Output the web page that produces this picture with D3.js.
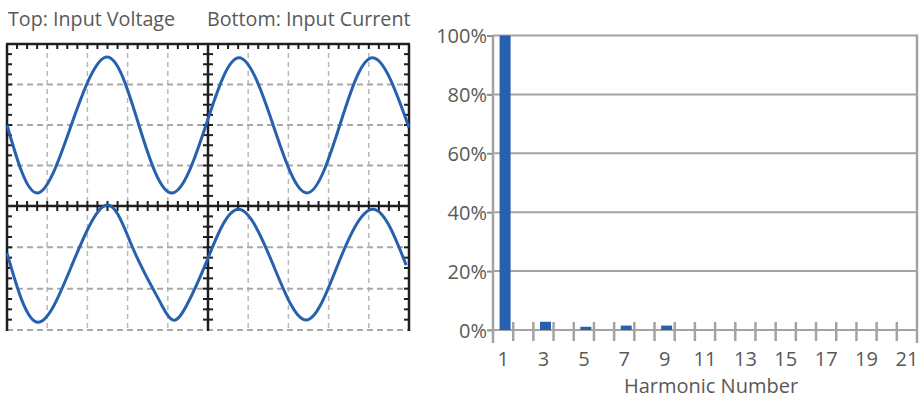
<!DOCTYPE html>
<html><head><meta charset="utf-8">
<script src="https://cdn.jsdelivr.net/npm/d3@7"></script>
<style>body{margin:0;background:#fff} svg{display:block} text{font-family:"Open Sans",sans-serif;fill:#595959}</style>
</head><body><svg id="c" width="921" height="400"></svg>
<script>
// ---------- data ----------
const panelTitles = ["Top: Input Voltage", "Bottom: Input Current"];
// oscilloscope traces: time in divisions (0-10), amplitude in divisions from trace centre
const voltageT = [0, 0.75, 1.60, 2.49, 3.28, 4.10, 4.95, 5.77, 6.62, 7.46, 8.28, 9.10, 10.0];
const voltageV = [0, -1.68, 0, 1.68, 0, -1.68, 0, 1.66, 0, -1.68, 0, 1.66, -0.06];
const currentT = [0, 0.75, 1.62, 2.46, 3.10, 3.64, 3.85, 4.13, 4.47, 4.98, 5.75, 6.62, 7.44, 8.23, 9.10, 9.93];
const currentI = [0.28, -1.39, 0, 1.44, 0.47, -0.60, -0.98, -1.34, -0.98, 0.11, 1.34, 0, -1.34, 0, 1.34, -0.01];
// harmonic spectrum
const harmonicNumbers = [1,2,3,4,5,6,7,8,9,10,11,12,13,14,15,16,17,18,19,20,21];
const harmonicPct =     [100,0,2.8,0,1.1,0,1.5,0,1.5,0,0,0,0,0,0,0,0,0,0,0,0];
const xTickLabels = [1,3,5,7,9,11,13,15,17,19,21];
const yTickValues = [0,20,40,60,80,100];
const xAxisTitle = "Harmonic Number";

// ---------- drawing ----------
const svg = d3.select("#c");
const blue = "#2761ad";

// titles
svg.append("text").attr("x", 8).attr("y", 26).attr("font-size", 19.7).text(panelTitles[0]);
svg.append("text").attr("x", 207).attr("y", 26).attr("font-size", 19.7).text(panelTitles[1]);

// scope scales
const xS = d3.scaleLinear([0, 10], [7, 409]);
const yTop = d3.scaleLinear([-2, 2], [206, 44]);
const yBot = d3.scaleLinear([-3, 0], [330, 206]);
const yCur = d3.scaleLinear([-1.58, 1.42], [330, 206]);

const scope = svg.append("g");
// vertical dashed grid
[1,2,3,4,6,7,8,9].forEach(d => {
  scope.append("line").attr("x1", xS(d)).attr("x2", xS(d)).attr("y1", 44).attr("y2", 330)
    .attr("stroke", "#b9b9b9").attr("stroke-width", 1.5).attr("stroke-dasharray", "5,4");
});
// horizontal dashed grid
[1,0,-1].forEach(d => {
  scope.append("line").attr("x1", 7).attr("x2", 409).attr("y1", yTop(d)).attr("y2", yTop(d))
    .attr("stroke", "#a9a9a9").attr("stroke-width", 2).attr("stroke-dasharray", "6,4");
});
[-1,-2,-3].forEach(d => {
  scope.append("line").attr("x1", 7).attr("x2", 409).attr("y1", yBot(d)).attr("y2", yBot(d))
    .attr("stroke", "#a9a9a9").attr("stroke-width", 2).attr("stroke-dasharray", "6,4");
});
// frame
const frame = scope.append("g").attr("stroke", "#1e1e1e").attr("stroke-width", 2.5);
frame.append("line").attr("x1", 6).attr("x2", 410).attr("y1", 44).attr("y2", 44);
frame.append("line").attr("x1", 6).attr("x2", 410).attr("y1", 206).attr("y2", 206);
[0, 5, 10].forEach(d => frame.append("line").attr("x1", xS(d)).attr("x2", xS(d)).attr("y1", 44).attr("y2", 331));
// minor ticks
const tk = scope.append("g").attr("stroke", "#1e1e1e").attr("stroke-width", 2);
d3.range(1, 40).forEach(k => {
  const v = k * 0.25; if (v === 5) return;
  tk.append("line").attr("x1", xS(v)).attr("x2", xS(v)).attr("y1", 44).attr("y2", 49);
  tk.append("line").attr("x1", xS(v)).attr("x2", xS(v)).attr("y1", 201).attr("y2", 211);
});
const yTicksScope = d3.range(1, 16).map(k => yTop(-2 + k * 0.25))
  .concat(d3.range(1, 12).map(k => yBot(-3 + k * 0.25)));
yTicksScope.forEach(y => {
  tk.append("line").attr("x1", 7).attr("x2", 12).attr("y1", y).attr("y2", y);
  tk.append("line").attr("x1", xS(5) - 5).attr("x2", xS(5) + 5).attr("y1", y).attr("y2", y);
  tk.append("line").attr("x1", 404).attr("x2", 409).attr("y1", y).attr("y2", y);
});
// traces
const vLine = d3.line().x(d => xS(d[0])).y(d => yTop(d[1])).curve(d3.curveNatural);
const iLine = d3.line().x(d => xS(d[0])).y(d => yCur(d[1])).curve(d3.curveNatural);
scope.append("path").attr("d", vLine(d3.zip(voltageT, voltageV)))
  .attr("fill", "none").attr("stroke", blue).attr("stroke-width", 3);
scope.append("path").attr("d", iLine(d3.zip(currentT, currentI)))
  .attr("fill", "none").attr("stroke", blue).attr("stroke-width", 3);

// ---------- harmonic chart ----------
const x0 = 493, x1 = 917, yb = 330, yt = 35.5;
const xB = d3.scaleBand(harmonicNumbers, [x0, x1]);
const y = d3.scaleLinear([0, 100], [yb, yt]);
const g = svg.append("g");
const grey = "#a3a3a3";
// gridlines
yTickValues.filter(d => d > 0).forEach(d => {
  g.append("line").attr("x1", x0).attr("x2", x1).attr("y1", y(d)).attr("y2", y(d))
    .attr("stroke", grey).attr("stroke-width", 2);
});
// y axis
const yAx = g.append("g").attr("transform", `translate(${x0},0)`)
  .call(d3.axisLeft(y).tickValues(yTickValues).tickFormat(d => d + "%").tickSize(6).tickPadding(0));
yAx.select(".domain").remove();
yAx.selectAll(".tick line").attr("stroke", "#8c8c8c").attr("stroke-width", 2);
yAx.selectAll(".tick text").attr("font-size", 20).attr("font-family", "Open Sans").attr("fill", "#595959").attr("dy", "0.36em");
g.append("line").attr("x1", x0).attr("x2", x0).attr("y1", yt).attr("y2", 343).attr("stroke", grey).attr("stroke-width", 2.5);
g.append("line").attr("x1", x1).attr("x2", x1).attr("y1", yt - 1).attr("y2", 343).attr("stroke", grey).attr("stroke-width", 2.5);
// x axis line and category ticks
g.append("line").attr("x1", 487).attr("x2", x1).attr("y1", yb).attr("y2", yb).attr("stroke", grey).attr("stroke-width", 2);
harmonicNumbers.slice(1).forEach(h => {
  g.append("line").attr("x1", xB(h)).attr("x2", xB(h)).attr("y1", 322).attr("y2", 341)
    .attr("stroke", grey).attr("stroke-width", 2.5);
});
// bars
const bw = 11;
g.selectAll("rect.bar").data(harmonicNumbers.map((h, i) => ({h, v: harmonicPct[i]})).filter(d => d.v > 0))
  .join("rect").attr("class", "bar")
  .attr("x", d => xB(d.h) + xB.bandwidth() / 2 - bw / 2 + 2)
  .attr("width", bw)
  .attr("y", d => y(d.v)).attr("height", d => yb - y(d.v))
  .attr("fill", blue);
// x tick labels
const xAx = g.append("g").attr("transform", `translate(0,${yb})`)
  .call(d3.axisBottom(xB).tickValues(xTickLabels).tickSize(0).tickPadding(22));
xAx.select(".domain").remove();
xAx.selectAll(".tick text").attr("font-size", 20).attr("font-family", "Open Sans").attr("fill", "#595959");
g.append("text").attr("x", 711).attr("y", 393).attr("text-anchor", "middle").attr("font-size", 20).text(xAxisTitle);
</script></body></html>
